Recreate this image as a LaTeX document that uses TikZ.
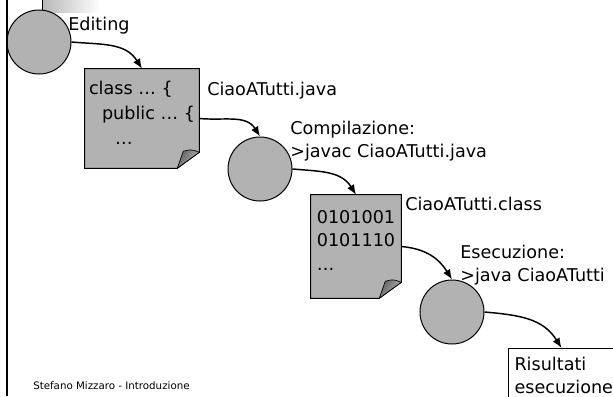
\documentclass[tikz,border=0pt]{standalone}
\usepackage{fontspec}
\setmainfont{DejaVu Sans}
\usepackage{tikz}
\usetikzlibrary{arrows.meta,calc,backgrounds}

\definecolor{stagegray}{RGB}{178,178,178}
\newcommand{\labelfont}{\fontsize{13.2}{17.5}\selectfont}
\newcommand{\footfont}{\fontsize{7.7}{9}\selectfont}

% folded sheet drawn round a doc node
\newcommand{\sheet}[1]{%
  \draw [line width=0.75pt,fill=stagegray] (#1.north west) -- (#1.north east) -- ($(#1.south east)+(0,-16)$) -- ($(#1.south east)+(-22,0)$) -- (#1.south west) -- cycle ;
  \draw [line width=0.5pt,left color=black!62,right color=black!28,shading angle=60] ($(#1.south east)+(-22,0)$) -- ($(#1.south east)+(-16,-17)$) .. controls ($(#1.south east)+(-8,-19)$) .. ($(#1.south east)+(0,-16)$) -- cycle ;}

\tikzset{
  stage/.style={circle,draw,line width=0.75pt,fill=stagegray,minimum size=48pt,inner sep=0pt},
  doc/.style={rectangle,align=left,inner sep=0pt},
  lbl/.style={anchor=north west,inner sep=0.75pt,align=left},
  resultbox/.style={rectangle,draw,line width=0.75pt,fill=white,anchor=north west,align=left,inner xsep=4.5pt,inner ysep=6.2pt,text width=70.5pt},
  flow/.style={-{Latex[length=7.5pt,width=6pt]},line width=1.1pt},
  sweep/.style={out=5,in=-122,looseness=1.05},
}

\begin{document}
\begin{tikzpicture}[x=0.75pt,y=0.75pt,yscale=-1,xscale=1,every node/.style={font=\labelfont}]
        \useasboundingbox (0,0) rectangle (613,396);

        %Shape: Rectangle, top strip
        \shade [left color=black!28,right color=white] (42,0) rectangle (100,12);
        \draw [line width=0.75pt] (42,0) -- (42,14);

        %Shape: Circle
        \node [stage] (edit) at (39,42) {};
        %Shape: Circle
        \node [stage] (compile) at (260,169) {};
        %Shape: Circle
        \node [stage] (run) at (452,312) {};

        %Shape: Document
        \node [doc,minimum width=85.5pt,minimum height=74.25pt,font={\fontsize{13.2}{18.75}\selectfont}] (src) at (142,118.5) {class … \{\\\hspace*{9.75pt}public … \{\\\hspace*{19.5pt}…\rule[-8.5pt]{0pt}{0pt}};
        %Shape: Document
        \node [doc,minimum width=67.5pt,minimum height=77.25pt,font={\fontsize{13.2}{17.6}\selectfont}] (bin) at (356,246.5) {0101001\\0101110\\…\rule[-9.6pt]{0pt}{0pt}};
        \begin{scope}[on background layer]
          \sheet{src}
          \sheet{bin}
        \end{scope}

        %Shape: Rectangle
        \node [resultbox] (out) at (508,348) {Risultati\\esecuzione};

        %Straight Lines, left bar
        \draw [line width=2pt] (7,0) -- (7,396);

        %Curve Lines
        \draw [flow] (edit.east) to[sweep] (src.north);
        \draw [flow] (src.east) to[sweep] (compile.north);
        \draw [flow] (compile.east) to[sweep] (bin.north);
        \draw [flow] (bin.east) to[sweep] (run.north);
        \draw [flow] (run.east) to[sweep] (out.north);

        % Text Node
        \node [lbl] (editlbl) at (67,16) {Editing};
        % Text Node
        \node [lbl] (srclbl) at (206,81) {CiaoATutti.java};
        % Text Node
        \node [lbl] (complbl) at (289,120) {Compilazione:\\>javac CiaoATutti.java};
        % Text Node
        \node [lbl] (binlbl) at (404,196) {CiaoATutti.class};
        % Text Node
        \node [lbl] (runlbl) at (459,244) {Esecuzione:\\>java CiaoATutti};
        % Text Node
        \node [lbl,font=\footfont] (foot) at (32,380) {Stefano Mizzaro - Introduzione};

\end{tikzpicture}
\end{document}
